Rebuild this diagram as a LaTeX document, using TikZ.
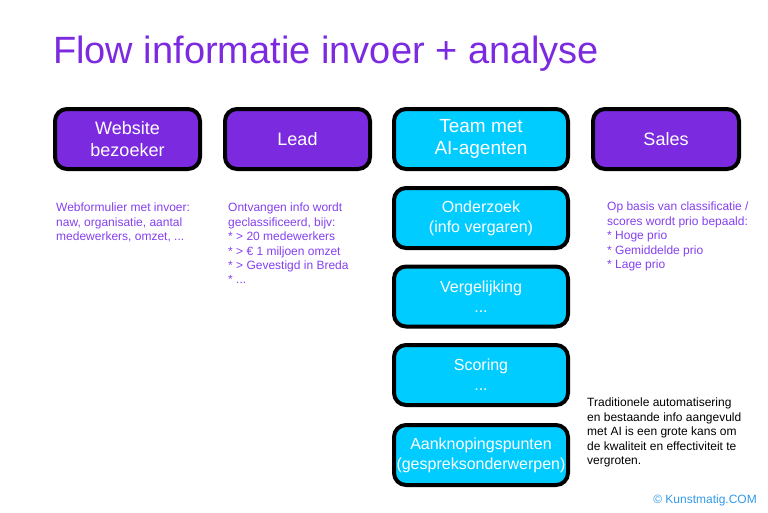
\documentclass[tikz,border=0pt]{standalone}
\usepackage{fontspec}
\setmainfont{Liberation Sans}
\definecolor{paars}{HTML}{7B2AE0}
\definecolor{paarstekst}{HTML}{8440EE}
\definecolor{cyaan}{HTML}{00CCFF}
\definecolor{blauwtekst}{HTML}{3399E8}

\begin{document}
\begin{tikzpicture}[x=1pt, y=-1pt,
        blok/.style={draw=black, line width=4pt, rounded corners=12pt,
            minimum height=60pt, text=white, align=center,
            font=\fontsize{18}{22}\selectfont, inner sep=2pt},
        paarsblok/.style={blok, fill=paars, minimum width=145pt},
        agentblok/.style={blok, fill=cyaan, minimum width=174pt},
        taakblok/.style={agentblok, font=\fontsize{16}{20}\selectfont},
        notitie/.style={anchor=north west, align=left, inner sep=0pt,
            font=\fontsize{12}{14.4}\selectfont, text=paarstekst},
    ]
        \useasboundingbox (0,0) rectangle (768,512);
        % titel
        \node[anchor=base west, inner sep=0pt, text=paars,
            font=\fontsize{38}{40}\selectfont] (titel) at (53,63)
            {Flow informatie invoer + analyse};
        % bovenste rij
        \node[paarsblok] (bezoeker) at (127.5,139) {Website\\bezoeker};
        \node[paarsblok] (lead) at (297.5,139) {Lead};
        \node[agentblok, font=\fontsize{19}{22}\selectfont] (team) at (481,139)
            {Team met\\AI-agenten};
        \node[paarsblok, minimum width=146pt] (sales) at (666,139) {Sales};
        % agenten
        \node[taakblok] (onderzoek) at (481,218) {Onderzoek\\(info vergaren)};
        \node[taakblok] (vergelijking) at (481,296.5) {Vergelijking\\...};
        \node[taakblok] (scoring) at (481,375) {Scoring\\...};
        \node[taakblok] (aanknoping) at (481,455)
            {Aanknopingspunten\\(gespreksonderwerpen)};
        % notities
        \node[notitie] (webform) at (56,203)
            {Webformulier met invoer:\\naw, organisatie, aantal\\medewerkers, omzet, ...};
        \node[notitie] (classificatie) at (228,203)
            {Ontvangen info wordt\\geclassificeerd, bijv:\\* > 20 medewerkers\\* > € 1 miljoen omzet\\* > Gevestigd in Breda\\* ...};
        \node[notitie] (prio) at (607,202)
            {Op basis van classificatie /\\scores wordt prio bepaald:\\* Hoge prio\\* Gemiddelde prio\\* Lage prio};
        \node[notitie, text=black] (kans) at (587,398)
            {Traditionele automatisering\\en bestaande info aangevuld\\met AI is een grote kans om\\de kwaliteit en effectiviteit te\\vergroten.};
        \node[anchor=base east, inner sep=0pt, text=blauwtekst,
            font=\fontsize{12}{14}\selectfont] (bron) at (757,503)
            {© Kunstmatig.COM};
\end{tikzpicture}
\end{document}
